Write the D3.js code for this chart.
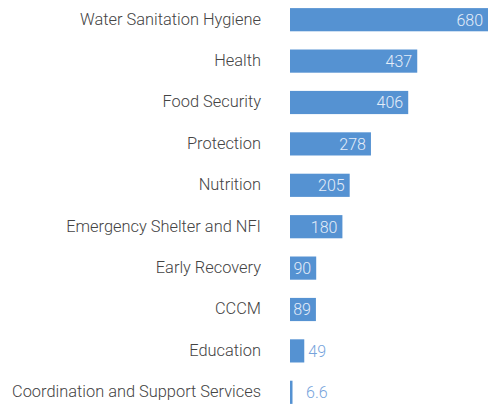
<!DOCTYPE html>
<html>
<head>
<meta charset="utf-8">
<script src="https://cdn.jsdelivr.net/npm/d3@7"></script>
<style>
  body { margin: 0; background: #fff; }
  svg { display: block; font-family: Roboto, "Open Sans", sans-serif; font-weight: 300; }
</style>
</head>
<body>
<div id="chart"></div>
<script>
// categories and values, top to bottom
const categories = [
  'Water Sanitation Hygiene',
  'Health',
  'Food Security',
  'Protection',
  'Nutrition',
  'Emergency Shelter and NFI',
  'Early Recovery',
  'CCCM',
  'Education',
  'Coordination and Support Services'
];
const values = [680, 437, 406, 278, 205, 180, 90, 89, 49, 6.6];
const valueLabels = ['680', '437', '406', '278', '205', '180', '90', '89', '49', '6.6'];

const width = 489, height = 407;
const margin = { top: 0, right: 1, bottom: 0, left: 290 };

const svg = d3.select('#chart').append('svg')
  .attr('width', width)
  .attr('height', height);

const x = d3.scaleLinear()
  .domain([0, 680])
  .range([margin.left, width - margin.right]);

const y = d3.scaleBand()
  .domain(categories)
  .range([-1, 413])
  .paddingInner(0.44)
  .paddingOuter(0.22);

const rows = categories.map((c, i) => ({ cat: c, v: values[i], lbl: valueLabels[i] }));

// bars
svg.append('g').selectAll('rect')
  .data(rows)
  .enter().append('rect')
  .attr('x', x(0))
  .attr('y', d => y(d.cat))
  .attr('width', d => Math.max(x(d.v) - x(0), 2.5))
  .attr('height', y.bandwidth())
  .attr('fill', '#5592d2');

// category labels
svg.append('g').selectAll('text')
  .data(rows)
  .enter().append('text')
  .attr('x', 261)
  .attr('y', d => y(d.cat) + y.bandwidth() / 2)
  .attr('dy', '0.3em')
  .attr('text-anchor', 'end')
  .attr('font-size', 16.4)
  .attr('fill', '#444')
  .text(d => d.cat);

// value labels: inside when they fit, else outside
const vals = svg.append('g').selectAll('text')
  .data(rows)
  .enter().append('text')
  .attr('y', d => y(d.cat) + y.bandwidth() / 2)
  .attr('dy', '0.37em')
  .attr('font-size', 16)
  .text(d => d.lbl);

vals.each(function(d) {
  const t = d3.select(this);
  const w = this.getComputedTextLength();
  const barW = x(d.v) - x(0);
  if (w + 8 <= barW) {
    t.attr('x', x(d.v) - 5).attr('text-anchor', 'end').attr('fill', '#e4edf9');
  } else {
    t.attr('x', Math.max(x(d.v) + 4, x(0) + 16)).attr('text-anchor', 'start').attr('fill', '#76a3dc');
  }
});
</script>
</body>
</html>
